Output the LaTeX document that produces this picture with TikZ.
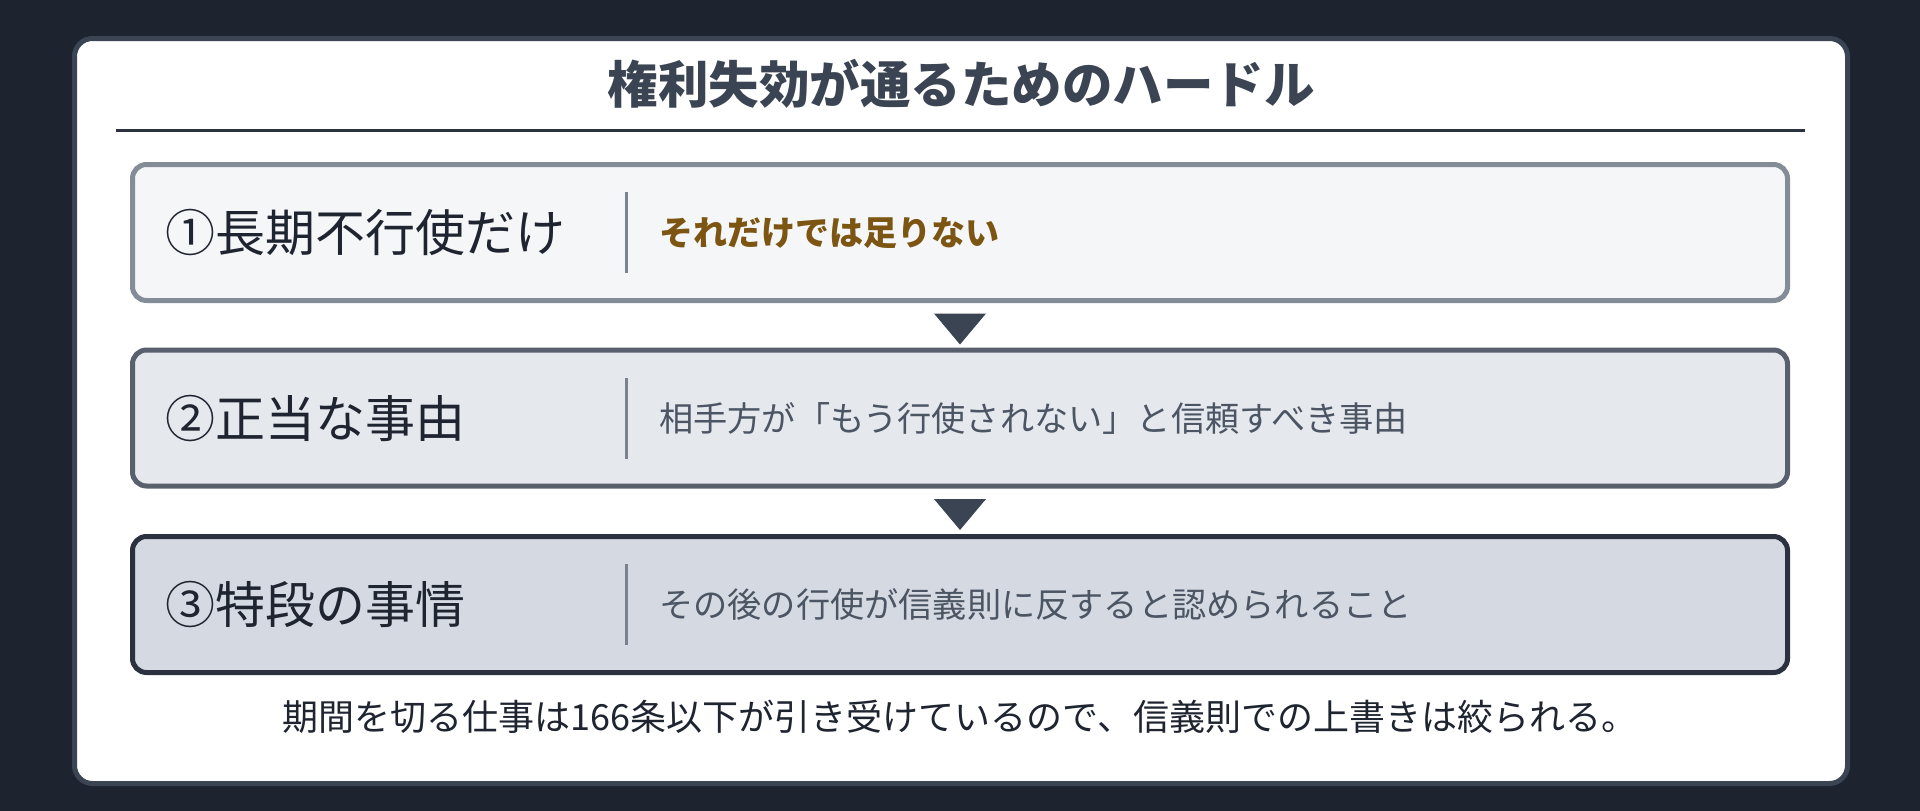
\documentclass[tikz,border=0pt]{standalone}
\usepackage{fontspec}
\setmainfont{Noto Sans CJK JP}
\usetikzlibrary{positioning,calc}

\definecolor{pagebg}{HTML}{1E242F}
\definecolor{cardedge}{HTML}{3B4452}
\definecolor{rulecol}{HTML}{2B313E}
\definecolor{edgeA}{HTML}{848C98}
\definecolor{fillA}{HTML}{F5F6F8}
\definecolor{edgeB}{HTML}{58606E}
\definecolor{fillB}{HTML}{E5E8ED}
\definecolor{edgeC}{HTML}{2B313E}
\definecolor{fillC}{HTML}{D5DAE2}
\definecolor{sepcol}{HTML}{7A8290}
\definecolor{warncol}{HTML}{7D5512}
\definecolor{desccol}{HTML}{4B5563}
\definecolor{textdark}{HTML}{1E2430}

\begin{document}
\begin{tikzpicture}[x=1pt,y=-1pt,
		hurdle/.style={draw, line width=5pt, rounded corners=14pt, minimum width=1655pt, minimum height=136pt, inner sep=0pt},
		lbl/.style={anchor=west, inner sep=0pt, text=textdark, font=\fontsize{50}{60}\selectfont},
		desc/.style={anchor=west, inner sep=0pt, text=desccol, font=\fontsize{34.2}{40}\selectfont},
		sep/.style={sepcol, line width=3pt},
		down/.style={fill=cardedge}]
	% Background and card
	\useasboundingbox (0,0) rectangle (1920,811);
	\fill[pagebg] (0,0) rectangle (1920,811);
	\draw[cardedge, fill=white, line width=5pt, rounded corners=18pt] (74.5,38.5) rectangle (1847.5,783.5);
	
	% Title with rule
	\node[inner sep=0pt, text=cardedge, font=\fontsize{50.5}{60}\selectfont\bfseries] (title) at (961,84) {権利失効が通るためのハードル};
	\coordinate (ruleL) at (116,130.5);
	\coordinate (ruleR) at (1805,130.5);
	\draw[rulecol, line width=3pt] (ruleL) -- (ruleR);
	
	% The three hurdles
	\node[hurdle, draw=edgeA, fill=fillA] (b1) at (960,232.5) {};
	\node[hurdle, draw=edgeB, fill=fillB] (b2) at (960,418) {};
	\node[hurdle, draw=edgeC, fill=fillC] (b3) at (960,604.5) {};
	
	\node[lbl] (l1) at ([xshift=35pt]b1.west) {①長期不行使だけ};
	\node[lbl] (l2) at ([xshift=35pt]b2.west) {②正当な事由};
	\node[lbl] (l3) at ([xshift=35pt]b3.west) {③特段の事情};
	
	\draw[sep] ([xshift=496pt,yshift=40.5pt]b1.west) -- ([xshift=496pt,yshift=-40.5pt]b1.west);
	\draw[sep] ([xshift=496pt,yshift=40.5pt]b2.west) -- ([xshift=496pt,yshift=-40.5pt]b2.west);
	\draw[sep] ([xshift=496pt,yshift=40.5pt]b3.west) -- ([xshift=496pt,yshift=-40.5pt]b3.west);
	
	\node[desc, text=warncol, font=\fontsize{34}{40}\selectfont\bfseries] (d1) at ([xshift=529pt]b1.west) {それだけでは足りない};
	\node[desc] (d2) at ([xshift=529pt]b2.west) {相手方が「もう行使されない」と信頼すべき事由};
	\node[desc] (d3) at ([xshift=529pt]b3.west) {その後の行使が信義則に反すると認められること};
	
	% Arrows between the hurdles
	\fill[down] ([xshift=-26pt,yshift=-10.5pt]b1.south) -- ([xshift=26pt,yshift=-10.5pt]b1.south) -- ([yshift=-41.5pt]b1.south) -- cycle;
	\fill[down] ([xshift=-26pt,yshift=-10.5pt]b2.south) -- ([xshift=26pt,yshift=-10.5pt]b2.south) -- ([yshift=-41.5pt]b2.south) -- cycle;
	
	% Closing note
	\node[inner sep=0pt, text=textdark, font=\fontsize{36}{43}\selectfont] (note) at (960,717) {期間を切る仕事は166条以下が引き受けているので、信義則での上書きは絞られる。};
\end{tikzpicture}
\end{document}
